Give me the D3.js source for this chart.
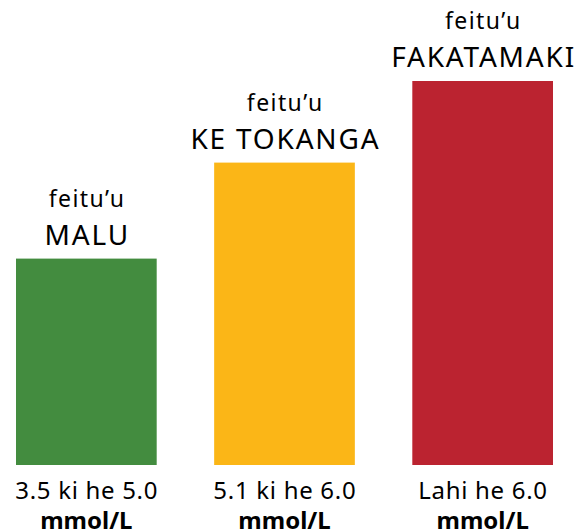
<!DOCTYPE html>
<html>
<head>
    <script src="https://d3js.org/d3.v7.min.js"></script>
    <style>
        body { margin: 0; background: #fff; }
        text { font-family: "Noto Sans", sans-serif; fill: #000; }
    </style>
</head>
<body>
    <div id="chart"></div>
    <script>
        // Data
        const zones = ["MALU", "KE TOKANGA", "FAKATAMAKI"];
        const levels = [2.15, 3.15, 4.0];
        const ranges = ["3.5 ki he 5.0", "5.1 ki he 6.0", "Lahi he 6.0"];
        const colors = ["#438c3f", "#fbb617", "#bb2330"];
        const prefix = "feitu\u2019u";
        const unit = "mmol/L";

        const width = 587, height = 531;

        const svg = d3.select('#chart')
            .append('svg')
            .attr('width', width)
            .attr('height', height);

        const x = d3.scaleBand()
            .domain(zones)
            .range([16, 553])
            .paddingInner(0.29)
            .paddingOuter(0);

        const y = d3.scaleLinear()
            .domain([0, 4])
            .range([465, 81]);

        const data = zones.map((z, i) => ({zone: z, level: levels[i], range: ranges[i], color: colors[i]}));

        // Bars
        svg.selectAll('rect.bar')
            .data(data)
            .join('rect')
            .attr('class', 'bar')
            .attr('x', d => x(d.zone))
            .attr('y', d => y(d.level))
            .attr('width', x.bandwidth())
            .attr('height', d => y(0) - y(d.level))
            .attr('fill', d => d.color);

        // Labels above bars
        const topLabels = svg.selectAll('g.top')
            .data(data)
            .join('g')
            .attr('class', 'top')
            .attr('transform', d => `translate(${x(d.zone) + x.bandwidth() / 2},${y(d.level)})`);

        topLabels.append('text')
            .attr('text-anchor', 'middle')
            .attr('y', -52)
            .attr('dx', 0.7)
            .style('font-size', '23px')
            .style('letter-spacing', '1.4px')
            .text(prefix);

        topLabels.append('text')
            .attr('text-anchor', 'middle')
            .attr('y', -14)
            .attr('dx', 0.9)
            .style('font-size', '28px')
            .style('letter-spacing', '1.8px')
            .text(d => d.zone);

        // Labels under bars
        const bottomLabels = svg.selectAll('g.bottom')
            .data(data)
            .join('g')
            .attr('class', 'bottom')
            .attr('transform', d => `translate(${x(d.zone) + x.bandwidth() / 2},${y(0)})`);

        bottomLabels.append('text')
            .attr('text-anchor', 'middle')
            .attr('y', 34)
            .attr('dx', 0.35)
            .style('font-size', '24px')
            .style('letter-spacing', '0.7px')
            .text(d => d.range);

        bottomLabels.append('text')
            .attr('text-anchor', 'middle')
            .attr('y', 64)
            .style('font-size', '24px')
            .style('font-weight', 'bold')
            .text(unit);
    </script>
</body>
</html>
